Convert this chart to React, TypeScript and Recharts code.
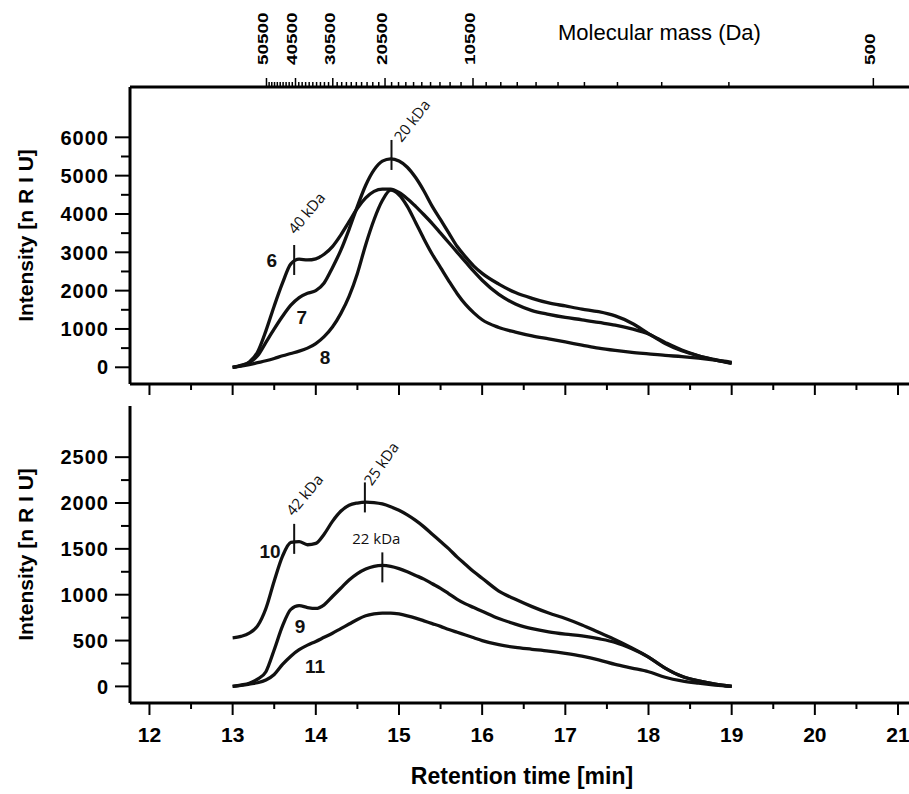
import React from 'react';
import { LineChart, Line, XAxis, YAxis, ReferenceDot } from 'recharts';

// retention time grid (min)
const times = [
  13.0, 13.1, 13.2, 13.3, 13.4, 13.5, 13.6, 13.7, 13.8, 13.9,
  14.0, 14.1, 14.2, 14.3, 14.4, 14.5, 14.6, 14.7, 14.8, 14.9,
  15.0, 15.1, 15.2, 15.3, 15.4, 15.5, 15.6, 15.7, 15.8, 15.9,
  16.0, 16.2, 16.4, 16.6, 16.8, 17.0, 17.2, 17.4, 17.6, 17.8,
  18.0, 18.2, 18.4, 18.6, 18.8, 19.0,
];

// top panel, intensity [nRIU]
const sample6 = [
  0, 50, 140, 400, 950, 1600, 2200, 2700, 2820, 2800,
  2830, 2950, 3150, 3450, 3800, 4150, 4420, 4590, 4650, 4650,
  4560, 4400, 4200, 3980, 3750, 3500, 3250, 3000, 2750, 2500,
  2270, 1900, 1650, 1480, 1380, 1300, 1240, 1170, 1100, 1000,
  870, 650, 450, 300, 190, 100,
];
const sample7 = [
  0, 40, 120, 300, 650, 1000, 1330, 1620, 1820, 1930,
  2000, 2200, 2600, 3050, 3600, 4200, 4750, 5150, 5380, 5440,
  5380, 5220, 4950, 4600, 4200, 3850, 3500, 3150, 2880, 2640,
  2450, 2170, 1950, 1800, 1680, 1600, 1520, 1450, 1340, 1150,
  880, 620, 430, 300, 200, 110,
];
const sample8 = [
  0, 30, 70, 120, 170, 230, 300, 360, 420, 500,
  620, 800, 1050, 1400, 1850, 2450, 3200, 3850, 4350, 4620,
  4500, 4200, 3780, 3350, 2950, 2600, 2250, 1920, 1640, 1420,
  1240, 1040, 920, 820, 740, 660, 580, 500, 440, 390,
  350, 310, 280, 240, 190, 130,
];

// bottom panel
const sample9 = [
  0, 15, 35, 80, 160, 400, 660, 840, 880, 860,
  850, 890, 980, 1070, 1160, 1230, 1280, 1310, 1320, 1310,
  1285, 1250, 1210, 1170, 1120, 1070, 1010, 950, 900, 860,
  820, 740, 680, 630, 595, 570, 550, 520, 480, 410,
  320, 200, 110, 60, 25, 0,
];
const sample10 = [
  530, 545, 580, 660, 850, 1150, 1420, 1570, 1580, 1545,
  1560, 1660, 1800, 1910, 1975, 2000, 2010, 2005, 1990, 1960,
  1920, 1870, 1810, 1740, 1660, 1580, 1500, 1410, 1330, 1250,
  1180, 1040, 950, 870, 800, 740, 670, 590, 510, 420,
  320, 200, 110, 60, 25, 0,
];
const sample11 = [
  0, 10, 25, 40, 70, 130, 240, 330, 400, 450,
  490, 535, 580, 630, 680, 730, 770, 790, 800, 800,
  790, 770, 745, 715, 685, 655, 620, 590, 560, 530,
  500, 455, 425, 405, 385, 360, 330, 290, 240, 200,
  160, 100, 60, 35, 15, 0,
];

// axis ticks
const timeTicks = [12, 12.5, 13, 13.5, 14, 14.5, 15, 15.5, 16, 16.5, 17, 17.5, 18, 18.5, 19, 19.5, 20, 20.5, 21];
const topYTicks = [0, 500, 1000, 1500, 2000, 2500, 3000, 3500, 4000, 4500, 5000, 5500, 6000];
const bottomYTicks = [0, 250, 500, 750, 1000, 1250, 1500, 1750, 2000, 2250, 2500];
const massLabels = [500, 10500, 20500, 30500, 40500, 50500];
const massTicks = Array.from({ length: 51 }, (_, i) => 500 + i * 1000);

// column calibration: log(M) linear in retention time
const CAL_T = 15.89; // min at 10500 Da
const CAL_REF = 10500;
const CAL_SLOPE = 1.581; // min per ln unit
const massToTime = (m: number) => CAL_T - CAL_SLOPE * Math.log(m / CAL_REF);
const massTickTimes = massTicks.map(massToTime);

// peak markers and curve numbers
const topMarks = [
  { t: 13.74, v: 2800, text: '40 kDa', angle: -50, dx: 1, dy: -25 },
  { t: 14.91, v: 5540, text: '20 kDa', angle: -52, dx: 10, dy: -12 },
];
const bottomMarks = [
  { t: 13.74, v: 1609, text: '42 kDa', angle: -50, dx: -1, dy: -22 },
  { t: 14.59, v: 2061, text: '25 kDa', angle: -55, dx: 7, dy: -11 },
  { t: 14.8, v: 1298, text: '22 kDa', angle: 0, dx: -6, dy: -23 },
];
const topNames = [
  { t: 13.47, v: 2800, name: '6' },
  { t: 13.83, v: 1320, name: '7' },
  { t: 14.11, v: 277, name: '8' },
];
const bottomNames = [
  { t: 13.45, v: 1478, name: '10' },
  { t: 13.81, v: 654, name: '9' },
  { t: 13.99, v: 218, name: '11' },
];

const topData = times.map((t, i) => ({ t, s6: sample6[i], s7: sample7[i], s8: sample8[i] }));
const bottomData = times.map((t, i) => ({ t, s9: sample9[i], s10: sample10[i], s11: sample11[i] }));

const FONT = '"Liberation Sans", Arial, Helvetica, sans-serif';
const NOTE_FONT = '"Open Sans", "Noto Sans", sans-serif';
const INK = '#111';
const frame = { stroke: '#000', strokeWidth: 3 };

const timeTick = (showLabel: boolean, major: number, minor: number) => (props: any) => {
  const { x, y, payload } = props;
  const isMajor = Number.isInteger(payload.value);
  return (
    <g>
      <line x1={x} x2={x} y1={y} y2={y + (isMajor ? major : minor)} stroke="#000" strokeWidth={2} />
      {showLabel && isMajor && (
        <text x={x} y={y + 39} textAnchor="middle" fontFamily={FONT} fontWeight="bold" fontSize={21} fill="#000">
          {payload.value}
        </text>
      )}
    </g>
  );
};

const yTick = (step: number) => (props: any) => {
  const { x, y, payload } = props;
  const isMajor = payload.value % step === 0;
  return (
    <g>
      <line x1={x - (isMajor ? 15 : 9)} x2={x} y1={y} y2={y} stroke="#000" strokeWidth={2} />
      {isMajor && (
        <text x={x - 21} y={y} dy="0.36em" textAnchor="end" fontFamily={FONT} fontWeight="bold" fontSize={20} letterSpacing={1} fill="#000">
          {payload.value}
        </text>
      )}
    </g>
  );
};

const massTick = (props: any) => {
  const { x, y, payload } = props;
  const idx = massTickTimes.findIndex((t) => Math.abs(t - payload.value) < 1e-6);
  const mass = massTicks[idx];
  const isMajor = massLabels.includes(mass);
  const lx = x + 2;
  return (
    <g>
      <line x1={x} x2={x} y1={y} y2={y - (isMajor ? 9 : 5)} stroke="#000" strokeWidth={1.5} />
      {isMajor && (
        <text
          x={0}
          y={0}
          transform={`translate(${lx} 65) rotate(-90) scale(1.3 1)`}
          textAnchor="start"
          fontFamily={FONT}
          fontWeight="bold"
          fontSize={14.5}
          fill="#000"
        >
          {mass}
        </text>
      )}
    </g>
  );
};

const yTitle = (props: any) => {
  const vb = props.viewBox;
  const cy = vb.y + vb.height / 2;
  return (
    <text x={25} y={cy} transform={`rotate(-90 25 ${cy})`} textAnchor="middle" dominantBaseline="central" fontFamily={FONT} fontWeight="bold" fontSize={21} fill="#000">
      Intensity [n R I U]
    </text>
  );
};

const markShape = (m: any) => (p: any) => {
  const { cx, cy } = p;
  const tx = cx + m.dx;
  const ty = cy + m.dy;
  return (
    <g>
      <line x1={cx} x2={cx} y1={cy - 15} y2={cy + 15} stroke={INK} strokeWidth={2} />
      <text
        x={tx}
        y={ty}
        transform={m.angle ? `rotate(${m.angle} ${tx} ${ty})` : undefined}
        textAnchor={m.angle ? 'start' : 'middle'}
        fontFamily={NOTE_FONT}
        fontSize={15}
        fill={INK}
      >
        {m.text}
      </text>
    </g>
  );
};

const nameShape = (name: string) => (p: any) => (
  <text x={p.cx} y={p.cy} dy="0.36em" textAnchor="middle" fontFamily={FONT} fontWeight="bold" fontSize={19} fill={INK}>
    {name}
  </text>
);

const series = (key: string) => (
  <Line
    key={key}
    xAxisId="t"
    dataKey={key}
    type="monotone"
    stroke={INK}
    strokeWidth={3.3}
    dot={false}
    activeDot={false}
    isAnimationActive={false}
  />
);

const T_DOMAIN: [number, number] = [11.766, 21.132];

export default function App() {
  return (
    <div style={{ position: 'absolute', left: 0, top: 0, width: 909, height: 794, background: '#fff', overflow: 'hidden' }}>
      <LineChart width={909} height={400} data={topData} margin={{ top: 0, right: 0, bottom: 0, left: 0 }}>
        <XAxis
          xAxisId="mass"
          dataKey="t"
          orientation="top"
          type="number"
          domain={T_DOMAIN}
          allowDataOverflow
          ticks={massTickTimes}
          interval={0}
          height={87}
          tickLine={false}
          tickSize={0}
          tickMargin={0}
          axisLine={frame}
          tick={massTick}
          label={{
            value: 'Molecular mass (Da)',
            content: () => (
              <text x={558} y={40} fontFamily={FONT} fontSize={22} fill="#000">
                Molecular mass (Da)
              </text>
            ),
          }}
        />
        <XAxis
          xAxisId="t"
          dataKey="t"
          type="number"
          domain={T_DOMAIN}
          allowDataOverflow
          ticks={timeTicks}
          interval={0}
          height={16}
          tickLine={false}
          tickSize={0}
          tickMargin={0}
          axisLine={frame}
          tick={timeTick(false, 11, 6)}
        />
        <YAxis
          type="number"
          domain={[-436, 7313]}
          allowDataOverflow
          ticks={topYTicks}
          interval={0}
          width={130}
          tickLine={false}
          tickSize={0}
          tickMargin={0}
          axisLine={frame}
          tick={yTick(1000)}
          label={{ value: 'Intensity [n R I U]', content: yTitle }}
        />
        {series('s6')}
        {series('s7')}
        {series('s8')}
        {topMarks.map((m) => (
          <ReferenceDot key={m.text} xAxisId="t" x={m.t} y={m.v} r={0} shape={markShape(m)} />
        ))}
        {topNames.map((n) => (
          <ReferenceDot key={n.name} xAxisId="t" x={n.t} y={n.v} r={0} shape={nameShape(n.name)} />
        ))}
      </LineChart>
      <LineChart width={909} height={394} data={bottomData} margin={{ top: 6, right: 0, bottom: 0, left: 0 }}>
        <XAxis
          xAxisId="frame"
          dataKey="t"
          orientation="top"
          type="number"
          domain={T_DOMAIN}
          allowDataOverflow
          height={0}
          tick={false}
          tickLine={false}
          axisLine={frame}
        />
        <XAxis
          xAxisId="t"
          dataKey="t"
          type="number"
          domain={T_DOMAIN}
          allowDataOverflow
          ticks={timeTicks}
          interval={0}
          height={91}
          tickLine={false}
          tickSize={0}
          tickMargin={0}
          axisLine={frame}
          tick={timeTick(true, 12, 6)}
          label={{
            value: 'Retention time [min]',
            content: () => (
              <text x={522} y={384} textAnchor="middle" fontFamily={FONT} fontWeight="bold" fontSize={23} fill="#000">
                Retention time [min]
              </text>
            ),
          }}
        />
        <YAxis
          type="number"
          domain={[-181, 3058]}
          allowDataOverflow
          ticks={bottomYTicks}
          interval={0}
          width={130}
          tickLine={false}
          tickSize={0}
          tickMargin={0}
          axisLine={frame}
          tick={yTick(500)}
          label={{ value: 'Intensity [n R I U]', content: yTitle }}
        />
        {series('s9')}
        {series('s10')}
        {series('s11')}
        {bottomMarks.map((m) => (
          <ReferenceDot key={m.text} xAxisId="t" x={m.t} y={m.v} r={0} shape={markShape(m)} />
        ))}
        {bottomNames.map((n) => (
          <ReferenceDot key={n.name} xAxisId="t" x={n.t} y={n.v} r={0} shape={nameShape(n.name)} />
        ))}
      </LineChart>
    </div>
  );
}
